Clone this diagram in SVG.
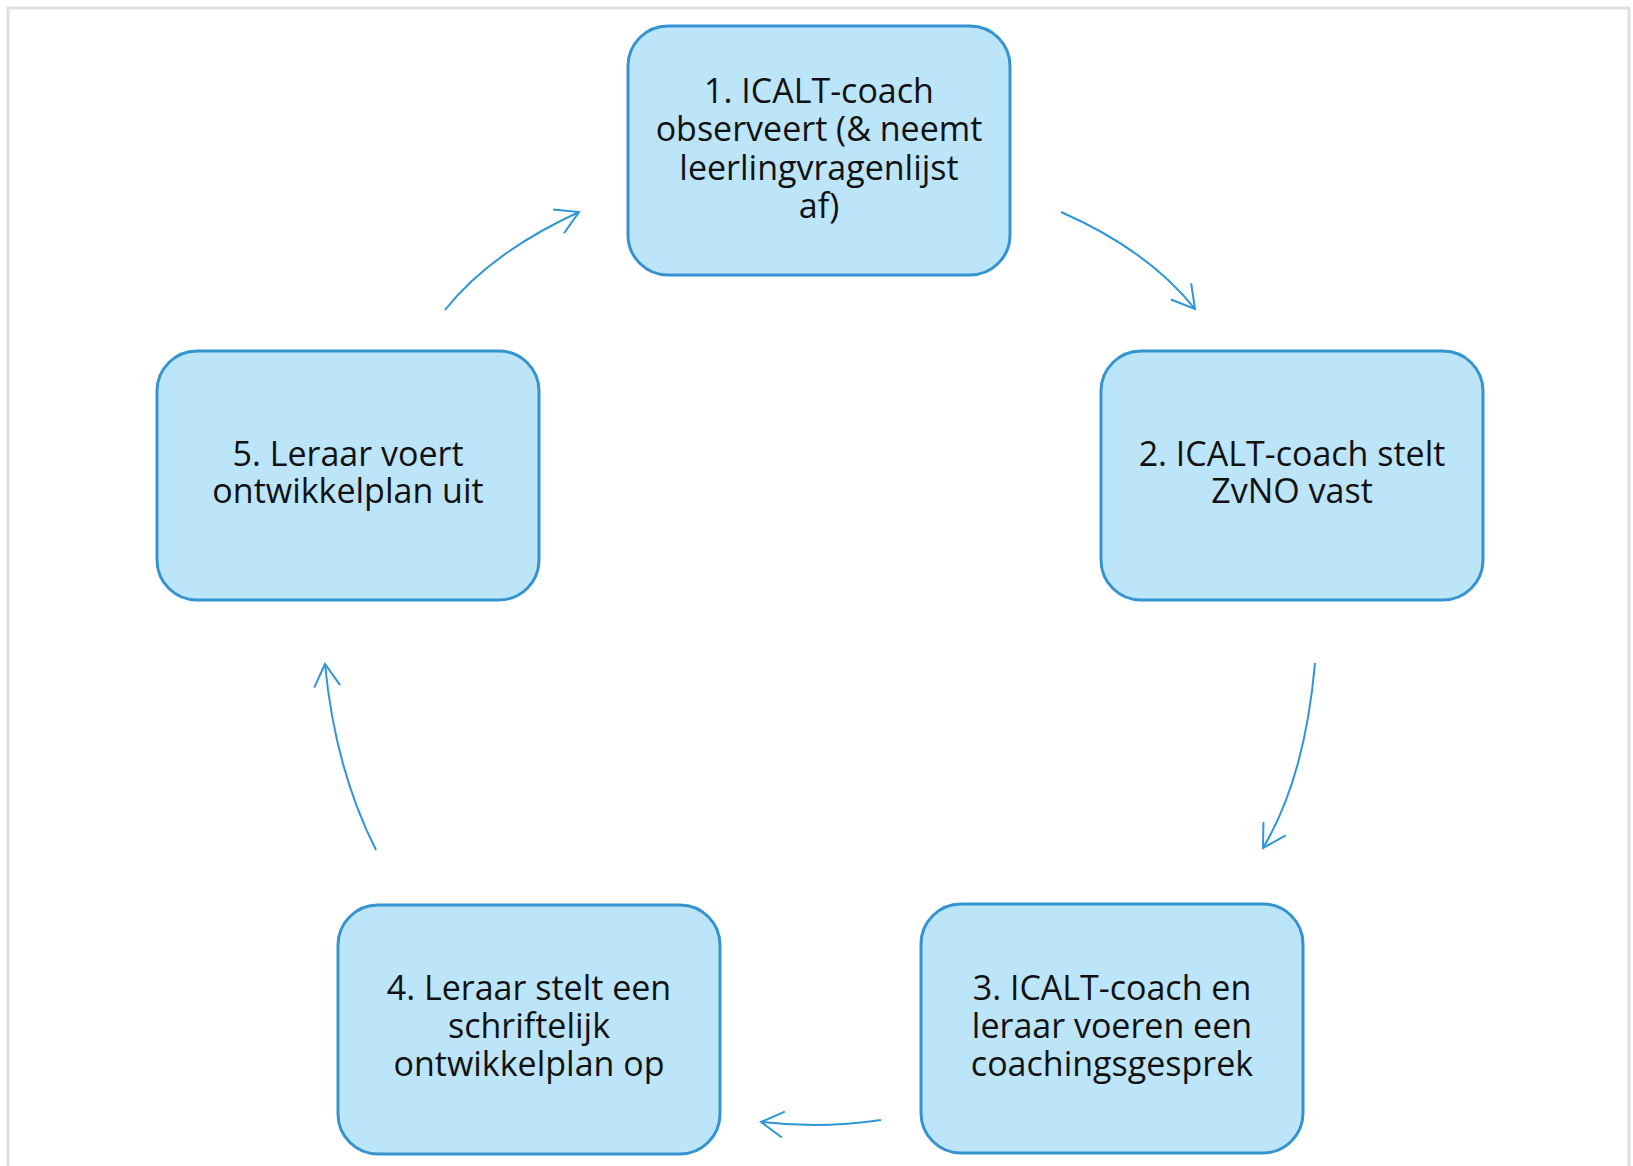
<svg xmlns="http://www.w3.org/2000/svg" width="1633" height="1166" viewBox="0 0 1633 1166">
<style>
.node rect{fill:#bde5f9;stroke:#3594d0;stroke-width:3}
.node text{font-family:"Open Sans","Liberation Sans",sans-serif;font-size:34px;fill:#111;text-anchor:middle}
.conn path{fill:none;stroke:#2f95d5;stroke-width:2}
</style>
<defs>
<marker id="arr" markerUnits="userSpaceOnUse" viewBox="-30 -20 34 40" markerWidth="34" markerHeight="40" refX="0" refY="0" orient="auto" overflow="visible">
<path d="M-22.5,-13 L0,0 L-22.5,13" fill="none" stroke="#2f95d5" stroke-width="2"/>
</marker>
</defs>
<rect x="0" y="0" width="1633" height="1166" fill="#ffffff"/>
<rect x="8" y="8" width="1621" height="1200" fill="none" stroke="#e0e0e0" stroke-width="3"/>
<g class="conn">
<path d="M1061,212 Q1148,250 1195,309" marker-end="url(#arr)"/>
<path d="M1315,663 Q1305,778 1263,848" marker-end="url(#arr)"/>
<path d="M881,1120 Q821,1129 761,1122" marker-end="url(#arr)"/>
<path d="M376,850 Q335,769 325,664" marker-end="url(#arr)"/>
<path d="M445,310 Q490,253 579,212" marker-end="url(#arr)"/>
</g>
<g id="node1" class="node">
<rect x="628" y="26" width="382" height="249" rx="40"/>
<text x="819" y="103">1. ICALT-coach</text>
<text x="819" y="141">observeert (&amp; neemt</text>
<text x="819" y="180">leerlingvragenlijst</text>
<text x="819" y="218">af)</text>
</g>
<g id="node2" class="node">
<rect x="1101" y="351" width="382" height="249" rx="40"/>
<text x="1292" y="466">2. ICALT-coach stelt</text>
<text x="1292" y="503">ZvNO vast</text>
</g>
<g id="node3" class="node">
<rect x="921" y="904" width="382" height="249" rx="40"/>
<text x="1112" y="1000">3. ICALT-coach en</text>
<text x="1112" y="1038">leraar voeren een</text>
<text x="1112" y="1076">coachingsgesprek</text>
</g>
<g id="node4" class="node">
<rect x="338" y="905" width="382" height="249" rx="40"/>
<text x="529" y="1000">4. Leraar stelt een</text>
<text x="529" y="1038">schriftelijk</text>
<text x="529" y="1076">ontwikkelplan op</text>
</g>
<g id="node5" class="node">
<rect x="157" y="351" width="382" height="249" rx="40"/>
<text x="348" y="466">5. Leraar voert</text>
<text x="348" y="503">ontwikkelplan uit</text>
</g>
</svg>
